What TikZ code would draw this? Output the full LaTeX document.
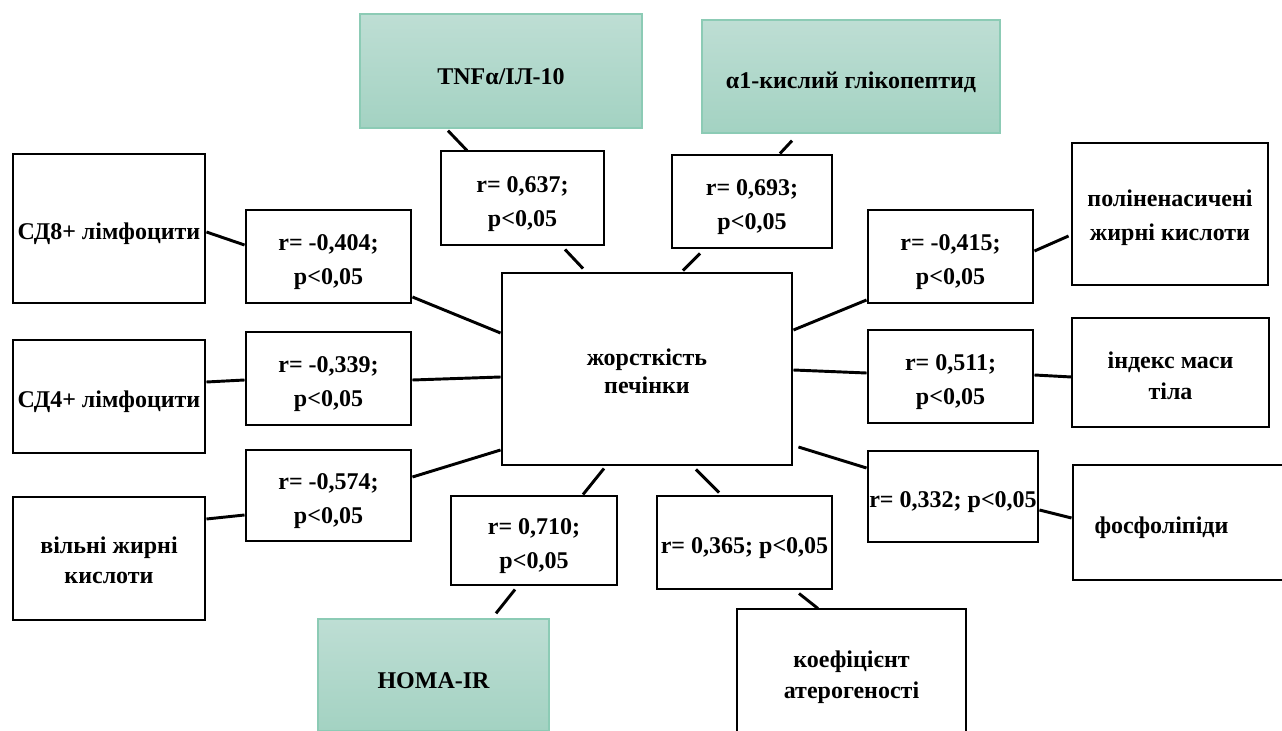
\documentclass[tikz,border=0pt]{standalone}
\usepackage{fontspec}
\setmainfont{Liberation Serif}
\usetikzlibrary{calc}
\definecolor{gtop}{HTML}{BEDED4}
\definecolor{gbot}{HTML}{A3D2C2}
\definecolor{gedge}{HTML}{8CCBB5}
\newcommand\dropx[1][21pt]{\rule{0pt}{#1}}
\tikzset{
  every node/.style={font=\bfseries\fontsize{18}{25.5}\selectfont, align=center, inner sep=0pt},
  box/.style 2 args={draw=black, line width=2.2pt, fill=white, minimum width=#1*0.75pt, minimum height=#2*0.75pt},
  gbox/.style 2 args={draw=gedge, line width=1pt, top color=gtop, bottom color=gbot, minimum width=#1*0.75pt, minimum height=#2*0.75pt},
  link/.style={line width=2.2pt, black},
  midtext/.style={font=\bfseries\fontsize{18}{21}\selectfont},
  lbltext/.style={font=\bfseries\fontsize{18}{23}\selectfont}
}
\begin{document}
\begin{tikzpicture}[x=0.75pt,y=-0.75pt]
\useasboundingbox (0,0) rectangle (1282,731);
% green boxes
\node[gbox={282}{114}] (tnf) at (501,71) {\dropx TNFα/ІЛ-10};
\node[gbox={298}{113}] (alpha) at (851,76.5) {\dropx α1-кислий глікопептид};
\node[gbox={231}{112}] (homa) at (433.5,675) {\dropx HOMA-IR};
% centre
\node[box={290}{192}, midtext] (centre) at (647,369) {\dropx[16.5pt]жорсткість\\печінки};
% correlation boxes
\node[box={163}{94}] (rtnf) at (522.5,198) {\dropx r= 0,637;\\p<0,05};
\node[box={160}{93}] (ralpha) at (752,201.5) {\dropx r= 0,693;\\p<0,05};
\node[box={165}{93}] (r404) at (328.5,256.5) {\dropx r= -0,404;\\p<0,05};
\node[box={165}{93}] (r339) at (328.5,378.5) {\dropx r= -0,339;\\p<0,05};
\node[box={165}{91}] (r574) at (328.5,495.5) {\dropx r= -0,574;\\p<0,05};
\node[box={166}{89}] (r710) at (534,540.5) {\dropx r= 0,710;\\p<0,05};
\node[box={175}{93}] (r365) at (744.5,542.5) {\dropx r= 0,365; p<0,05};
\node[box={165}{93}] (r415) at (950.5,256.5) {\dropx r= -0,415;\\p<0,05};
\node[box={165}{93}] (r511) at (950.5,376.5) {\dropx r= 0,511;\\p<0,05};
\node[box={170}{91}] (r332) at (953,496.5) {\dropx r= 0,332; p<0,05};
% outer boxes
\node[box={192}{149}] (cd8) at (109,228.5) {\dropx СД8+ лімфоцити};
\node[box={192}{113}] (cd4) at (109,396.5) {\dropx СД4+ лімфоцити};
\node[box={192}{123}, lbltext] (vil) at (109,558.5) {\dropx[15pt]вільні жирні\\кислоти};
\node[box={229}{136}, lbltext] (koef) at (851.5,677) {коефіцієнт\\атерогеності};
\node[box={196}{142}] (poly) at (1170,214) {\dropx[18pt]поліненасичені\\жирні кислоти};
\node[box={197}{109}, lbltext] (index) at (1170.5,372.5) {\dropx[17pt]індекс маси\\тіла};
\node[box={217}{115}] (phos) at (1181.5,522.5) {\dropx фосфоліпіди\hspace*{30pt}};
% connectors
\draw[link] ($(tnf.south)+(-53,2)$) -- ($(rtnf.north)+(-55.5,1)$);
\draw[link] ($(rtnf.south)+(42.5,3)$) -- ($(centre.north)+(-64,-3)$);
\draw[link] ($(alpha.south)+(-59,7)$) -- ($(ralpha.north)+(28,0)$);
\draw[link] ($(ralpha.south)+(-52,4)$) -- ($(centre.north)+(36,-1)$);
\draw[link] ($(cd8.east)+(0,3.5)$) -- ($(r404.west)+(0,-11.5)$);
\draw[link] ($(r404.east)+(0,40.5)$) -- ($(centre.west)+(0,-36)$);
\draw[link] ($(cd4.east)+(0,-14.5)$) -- ($(r339.west)+(0,1.5)$);
\draw[link] ($(r339.east)+(0,1.5)$) -- ($(centre.west)+(0,8)$);
\draw[link] ($(vil.east)+(0,-39.5)$) -- ($(r574.west)+(0,19.5)$);
\draw[link] ($(r574.east)+(0,-18.5)$) -- ($(centre.west)+(0,81)$);
\draw[link] ($(r710.north)+(49,0)$) -- ($(centre.south)+(-43,2)$);
\draw[link] ($(r710.south)+(-19,3)$) -- ($(homa.north)+(62.5,-5)$);
\draw[link] ($(r365.north)+(-25.5,-2)$) -- ($(centre.south)+(49,3)$);
\draw[link] ($(r365.south)+(54.5,3)$) -- ($(koef.north)+(-33.5,1)$);
\draw[link] ($(r415.west)+(0,43.5)$) -- ($(centre.east)+(0,-39)$);
\draw[link] ($(r415.east)+(0,-5.5)$) -- ($(poly.west)+(-2,22)$);
\draw[link] ($(r511.west)+(0,-3.5)$) -- ($(centre.east)+(0,1)$);
\draw[link] ($(r511.east)+(0,-1.5)$) -- ($(index.west)+(1,4.5)$);
\draw[link] ($(r332.west)+(0,-28.5)$) -- ($(centre.east)+(5,78)$);
\draw[link] ($(r332.east)+(0,13.5)$) -- ($(phos.west)+(0,-4.5)$);
\end{tikzpicture}
\end{document}
